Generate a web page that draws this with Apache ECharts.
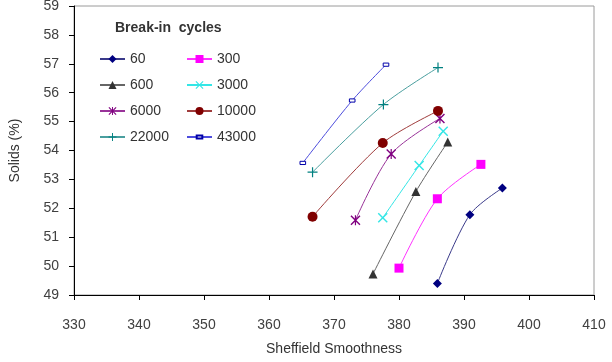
<!DOCTYPE html>
<html>
<head>
<meta charset="utf-8">
<script src="https://cdn.jsdelivr.net/npm/echarts@6/dist/echarts.min.js"></script>
<style>html,body{margin:0;padding:0;background:#fff;}#c{width:612px;height:362px;}</style>
</head>
<body>
<div id="c"></div>
<script>
// Data (x = Sheffield Smoothness, y = Solids %)
const cycles = ['60', '300', '600', '3000', '6000', '10000', '22000', '43000'];
const smooth60 = [385.9, 390.9, 395.9];
const solids60 = [49.40, 51.78, 52.70];
const smooth300 = [380.0, 385.9, 392.6];
const solids300 = [49.93, 52.33, 53.52];
const smooth600 = [376.0, 382.6, 387.5];
const solids600 = [49.73, 52.58, 54.29];
const smooth3000 = [377.5, 383.1, 386.8];
const solids3000 = [51.67, 53.48, 54.67];
const smooth6000 = [373.3, 378.8, 386.3];
const solids6000 = [51.59, 53.88, 55.11];
const smooth10000 = [366.7, 377.5, 386.0];
const solids10000 = [51.71, 54.26, 55.37];
const smooth22000 = [366.7, 377.6, 386.0];
const solids22000 = [53.25, 55.59, 56.87];
const smooth43000 = [365.2, 372.8, 378.0];
const solids43000 = [53.57, 55.73, 56.97];
const xTicks = [330, 340, 350, 360, 370, 380, 390, 400, 410];
const yTicks = [49, 50, 51, 52, 53, 54, 55, 56, 57, 58, 59];

const xs = [smooth60, smooth300, smooth600, smooth3000, smooth6000, smooth10000, smooth22000, smooth43000];
const ys = [solids60, solids300, solids600, solids3000, solids6000, solids10000, solids22000, solids43000];

const X_PATH = 'path://M0,1 L1,0 L5,4 L9,0 L10,1 L6,5 L10,9 L9,10 L5,6 L1,10 L0,9 L4,5 Z';
const PLUS_PATH = 'path://M4.4,0 L5.6,0 L5.6,4.4 L10,4.4 L10,5.6 L5.6,5.6 L5.6,10 L4.4,10 L4.4,5.6 L0,5.6 L0,4.4 L4.4,4.4 Z';
const AST_PATH = 'path://M0,1 L1,0 L5,4 L9,0 L10,1 L6,5 L10,9 L9,10 L5,6 L1,10 L0,9 L4,5 Z M4.4,0 L5.6,0 L5.6,10 L4.4,10 Z';
const SMALL_RECT = 'path://M0,0 M10,10 M1.5,3 L8.5,3 L8.5,7 L1.5,7 Z';

const styles = [
  {symbol: 'diamond', size: 9, fill: '#000080', line: '#3a3a8a'},
  {symbol: 'rect', size: 9, fill: '#ff00ff', line: '#ff33ff'},
  {symbol: 'triangle', size: 9, fill: '#333333', line: '#666666'},
  {symbol: X_PATH, size: 10, fill: '#33e6e6', line: '#33e6e6'},
  {symbol: AST_PATH, size: 10, fill: '#800080', line: '#993399'},
  {symbol: 'circle', size: 10, fill: '#800000', line: '#a03c3c'},
  {symbol: PLUS_PATH, size: 10, fill: '#008080', line: '#4a9f9f'},
  {symbol: SMALL_RECT, size: 8, fill: '#ffffff', border: '#0000aa', line: '#4d4ddd'}
];

const series = cycles.map((name, i) => {
  const st = styles[i];
  const itemStyle = {color: st.fill};
  if (st.border) { itemStyle.borderColor = st.border; itemStyle.borderWidth = 1; }
  return {
    name: name,
    type: 'line',
    smooth: 0.3,
    data: xs[i].map((x, j) => [x, ys[i][j]]),
    symbol: st.symbol,
    symbolSize: st.size,
    showAllSymbol: true,
    itemStyle: itemStyle,
    lineStyle: {color: st.line, width: 1},
    emphasis: {disabled: true},
    z: 3
  };
});

const font = "'Liberation Sans', Arial, sans-serif";
const legendBase = {
  orient: 'vertical', top: 47,
  itemWidth: 25, itemHeight: 10, itemGap: 12,
  textStyle: {fontSize: 14, color: '#333333', fontFamily: font},
  selectedMode: false
};
const chart = echarts.init(document.getElementById('c'), null, {renderer: 'canvas'});
chart.setOption({
  animation: false,
  backgroundColor: '#ffffff',
  textStyle: {fontFamily: font},
  title: {
    text: 'Break-in  cycles',
    left: 115, top: 21, padding: 0,
    textStyle: {fontSize: 14, fontWeight: 'bold', color: '#333333', fontFamily: font}
  },
  legend: [
    Object.assign({}, legendBase, {data: [cycles[0], cycles[2], cycles[4], cycles[6]], left: 94}),
    Object.assign({}, legendBase, {data: [cycles[1], cycles[3], cycles[5], cycles[7]], left: 181})
  ],
  grid: {
    left: 74, right: 18, top: 6, bottom: 67,
    show: true, borderColor: '#9a9a9a', borderWidth: 1,
    containLabel: false, outerBoundsMode: 'none'
  },
  xAxis: {
    type: 'value', min: xTicks[0], max: xTicks[xTicks.length - 1], interval: 10,
    name: 'Sheffield Smoothness', nameLocation: 'middle', nameGap: 47,
    nameTextStyle: {fontSize: 14, color: '#333333', fontFamily: font},
    axisLine: {show: true, onZero: false, lineStyle: {color: '#000000', width: 1}},
    axisTick: {show: true, inside: false, length: 5, lineStyle: {color: '#000000'}},
    axisLabel: {fontSize: 14, color: '#404040', margin: 23, fontFamily: font},
    splitLine: {show: false}
  },
  yAxis: {
    type: 'value', min: yTicks[0], max: yTicks[yTicks.length - 1], interval: 1,
    name: 'Solids (%)', nameLocation: 'middle', nameGap: 52, nameRotate: 90,
    nameTextStyle: {fontSize: 14, color: '#333333', fontFamily: font},
    axisLine: {show: true, onZero: false, lineStyle: {color: '#000000', width: 1}},
    axisTick: {show: true, inside: false, length: 5, lineStyle: {color: '#000000'}},
    axisLabel: {fontSize: 14, color: '#404040', margin: 15, fontFamily: font},
    splitLine: {show: false}
  },
  series: series
});
</script>
</body>
</html>
